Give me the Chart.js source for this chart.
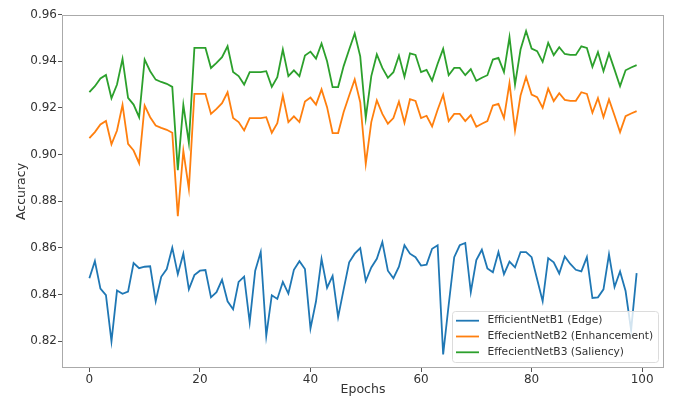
<!DOCTYPE html>
<html>
<head>
<meta charset="utf-8">
<script src="https://cdn.jsdelivr.net/npm/chart.js@4.4.1/dist/chart.umd.min.js"></script>
<style>
	html, body { margin: 0; padding: 0; background: #fff; }
	canvas { display: block; }
</style>
</head>
<body>
<canvas id="accChart" width="674" height="397"></canvas>
<script>
// epochs 0..99
var epochs = Array.from({ length: 100 }, (_, i) => i);

var edgeAcc = [
	0.8470, 0.8543, 0.8425, 0.8397, 0.8199, 0.8417, 0.8403, 0.8412, 0.8535, 0.8513,
	0.8519, 0.8521, 0.8371, 0.8476, 0.8509, 0.8601, 0.8487, 0.8575, 0.8422, 0.8483,
	0.8502, 0.8505, 0.8388, 0.8410, 0.8463, 0.8371, 0.8337, 0.8454, 0.8477, 0.8281,
	0.8502, 0.8582, 0.8223, 0.8397, 0.8381, 0.8454, 0.8404, 0.8506, 0.8543, 0.8509,
	0.8255, 0.8371, 0.8553, 0.8429, 0.8480, 0.8303, 0.8422, 0.8538, 0.8575, 0.8599,
	0.8458, 0.8516, 0.8553, 0.8625, 0.8502, 0.8470, 0.8519, 0.8611, 0.8575, 0.8560,
	0.8524, 0.8528, 0.8596, 0.8611, 0.8143, 0.8356, 0.8560, 0.8611, 0.8621, 0.8410,
	0.8548, 0.8592, 0.8512, 0.8495, 0.8582, 0.8487, 0.8541, 0.8516, 0.8582, 0.8582,
	0.8560, 0.8465, 0.8371, 0.8556, 0.8538, 0.8490, 0.8563, 0.8531, 0.8506, 0.8499,
	0.8560, 0.8385, 0.8388, 0.8422, 0.8572, 0.8432, 0.8499, 0.8415, 0.8247, 0.8492
];

var enhAcc = [
	0.9070, 0.9096, 0.9129, 0.9144, 0.9044, 0.9103, 0.9213, 0.9046, 0.9017, 0.8963,
	0.9210, 0.9160, 0.9124, 0.9114, 0.9106, 0.9093, 0.8736, 0.9016, 0.8853, 0.9260,
	0.9260, 0.9260, 0.9174, 0.9196, 0.9220, 0.9267, 0.9157, 0.9139, 0.9103, 0.9156,
	0.9156, 0.9156, 0.9160, 0.9093, 0.9134, 0.9253, 0.9139, 0.9164, 0.9139, 0.9227,
	0.9244, 0.9214, 0.9279, 0.9203, 0.9092, 0.9092, 0.9182, 0.9253, 0.9322, 0.9224,
	0.8960, 0.9139, 0.9232, 0.9174, 0.9132, 0.9156, 0.9227, 0.9136, 0.9237, 0.9230,
	0.9156, 0.9166, 0.9120, 0.9192, 0.9256, 0.9143, 0.9174, 0.9174, 0.9143, 0.9169,
	0.9119, 0.9132, 0.9143, 0.9210, 0.9217, 0.9156, 0.9306, 0.9103, 0.9253, 0.9332,
	0.9257, 0.9246, 0.9200, 0.9282, 0.9229, 0.9263, 0.9234, 0.9230, 0.9230, 0.9267,
	0.9260, 0.9179, 0.9242, 0.9160, 0.9236, 0.9167, 0.9096, 0.9164, 0.9176, 0.9186
];

var salAcc = [
	0.9267, 0.9293, 0.9326, 0.9341, 0.9241, 0.9300, 0.9410, 0.9243, 0.9214, 0.9160,
	0.9407, 0.9357, 0.9321, 0.9311, 0.9303, 0.9290, 0.8933, 0.9213, 0.9050, 0.9457,
	0.9457, 0.9457, 0.9371, 0.9393, 0.9417, 0.9464, 0.9354, 0.9336, 0.9300, 0.9353,
	0.9353, 0.9353, 0.9357, 0.9290, 0.9331, 0.9450, 0.9336, 0.9361, 0.9336, 0.9424,
	0.9441, 0.9411, 0.9476, 0.9400, 0.9289, 0.9289, 0.9379, 0.9450, 0.9519, 0.9421,
	0.9157, 0.9336, 0.9429, 0.9371, 0.9329, 0.9353, 0.9424, 0.9333, 0.9434, 0.9427,
	0.9353, 0.9363, 0.9317, 0.9389, 0.9453, 0.9340, 0.9371, 0.9371, 0.9340, 0.9366,
	0.9316, 0.9329, 0.9340, 0.9407, 0.9414, 0.9353, 0.9503, 0.9300, 0.9450, 0.9529,
	0.9454, 0.9443, 0.9397, 0.9479, 0.9426, 0.9460, 0.9431, 0.9427, 0.9427, 0.9464,
	0.9457, 0.9376, 0.9439, 0.9357, 0.9433, 0.9364, 0.9293, 0.9361, 0.9373, 0.9383
];

var seriesNames = ['EfficientNetB1 (Edge)', 'EffecientNetB2 (Enhancement)', 'EffecientNetB3 (Saliency)'];
var seriesColors = ['#1f77b4', '#ff7f0e', '#2ca02c'];
var xTicks = [0, 20, 40, 60, 80, 100];
var yTicks = [0.82, 0.84, 0.86, 0.88, 0.90, 0.92, 0.94, 0.96];

var FONT = "'DejaVu Sans', sans-serif";

function toPoints(vals) {
	return epochs.map((e, i) => ({ x: e, y: vals[i] }));
}

// box around plot + legend inside, bottom right
var framePlugin = {
	id: 'frame',
	beforeDatasetsDraw(chart) {
		var c = chart.ctx, a = chart.chartArea;
		c.save();
		c.strokeStyle = '#aaa';
		c.lineWidth = 1;
		c.strokeRect(Math.round(a.left) + 0.5, Math.round(a.top) + 0.5, Math.round(a.right - a.left) - 1, Math.round(a.bottom - a.top) - 1);
		c.restore();
	},
	afterDraw(chart) {
		var c = chart.ctx;
		var bx = 452.5, by = 311.5, bw = 206, bh = 51, r = 3;
		c.save();
		c.beginPath();
		c.moveTo(bx + r, by);
		c.arcTo(bx + bw, by, bx + bw, by + bh, r);
		c.arcTo(bx + bw, by + bh, bx, by + bh, r);
		c.arcTo(bx, by + bh, bx, by, r);
		c.arcTo(bx, by, bx + bw, by, r);
		c.closePath();
		c.fillStyle = 'rgba(255,255,255,0.8)';
		c.fill();
		c.strokeStyle = '#dcdcdc';
		c.lineWidth = 1;
		c.stroke();
		c.font = '10.7px ' + FONT;
		c.textBaseline = 'middle';
		c.fillStyle = '#333';
		for (var i = 0; i < seriesNames.length; i++) {
			var yy = 320.7 + i * 15.8;
			c.beginPath();
			c.moveTo(456, yy);
			c.lineTo(479, yy);
			c.strokeStyle = seriesColors[i];
			c.lineWidth = 1.8;
			c.stroke();
			c.fillText(seriesNames[i], 487.5, yy);
		}
		c.restore();
	}
};

var ctx = document.getElementById('accChart').getContext('2d');
var chart = new Chart(ctx, {
	type: 'line',
	data: {
		datasets: [edgeAcc, enhAcc, salAcc].map((vals, i) => ({
			label: seriesNames[i],
			data: toPoints(vals),
			borderColor: seriesColors[i],
			backgroundColor: seriesColors[i],
			borderWidth: 1.8,
			pointRadius: 0,
			tension: 0,
			fill: false
		}))
	},
	options: {
		responsive: false,
		animation: false,
		devicePixelRatio: 1,
		layout: { padding: { top: 15, right: 10, left: 0, bottom: 0 } },
		plugins: {
			legend: { display: false },
			tooltip: { enabled: false }
		},
		scales: {
			x: {
				type: 'linear',
				min: -4.95,
				max: 103.95,
				afterBuildTicks: (s) => { s.ticks = xTicks.map(v => ({ value: v })); },
				afterFit: (s) => { s.height = 29; },
				ticks: { color: '#333', font: { family: FONT, size: 12 }, padding: 1, maxRotation: 0, callback: (v) => v },
				grid: { display: true, drawOnChartArea: false, drawTicks: true, tickLength: 4, color: '#555' },
				border: { display: false },
				title: { display: true, text: 'Epochs', color: '#333', font: { family: FONT, size: 12.5 }, padding: { top: 0, bottom: 0 } }
			},
			y: {
				min: 0.8085,
				max: 0.9598,
				afterBuildTicks: (s) => { s.ticks = yTicks.map(v => ({ value: v })); },
				afterFit: (s) => { s.width = 62; },
				ticks: { color: '#333', font: { family: FONT, size: 12 }, padding: 1, callback: (v) => v.toFixed(2) },
				grid: { display: true, drawOnChartArea: false, drawTicks: true, tickLength: 4, color: '#555' },
				border: { display: false },
				title: { display: true, text: 'Accuracy', color: '#333', font: { family: FONT, size: 12.5 }, padding: { top: 14, bottom: 0 } }
			}
		}
	},
	plugins: [framePlugin]
});
</script>
</body>
</html>
